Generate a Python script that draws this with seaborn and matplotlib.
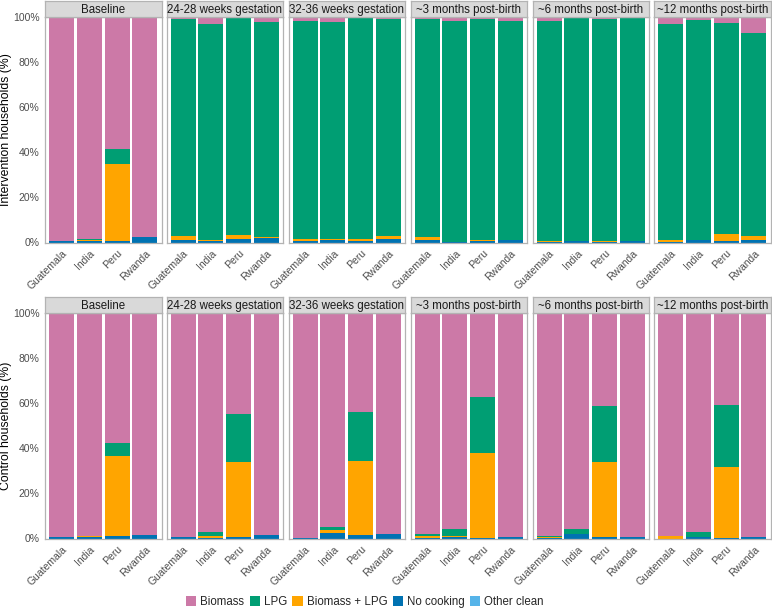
import numpy as np
import pandas as pd
import matplotlib
matplotlib.use("Agg")
import matplotlib.pyplot as plt
from matplotlib.patches import Patch
import seaborn as sns

countries = ["Guatemala", "India", "Peru", "Rwanda"]
stages = ["Baseline", "24-28 weeks gestation", "32-36 weeks gestation",
          "~3 months post-birth", "~6 months post-birth", "~12 months post-birth"]
fuels = ["Biomass", "LPG", "Biomass + LPG", "No cooking", "Other clean"]
colors = ["#CC79A7", "#009E73", "#FFA500", "#0072B2", "#56B4E9"]

# Intervention households (%), rows = stages, cols = countries
int_biomass = [[99.3, 98.5, 58.7, 97.5], [0.7, 3.2, 0.2, 2.4], [1.8, 2.0, 0.5, 0.7],
               [0.9, 1.6, 0.9, 1.6], [1.6, 0.3, 1.0, 0.6], [3.0, 1.2, 2.5, 7.0]]
int_lpg = [[0.0, 0.3, 6.3, 0.0], [96.6, 95.7, 96.4, 95.1], [96.7, 96.5, 97.9, 96.6],
           [96.6, 98.0, 97.9, 97.2], [97.7, 99.1, 98.3, 98.8], [96.0, 97.9, 93.9, 90.0]]
int_mixed = [[0.0, 0.5, 34.3, 0.0], [1.7, 0.4, 1.9, 0.3], [0.8, 0.2, 1.1, 1.0],
             [1.3, 0.0, 0.7, 0.0], [0.5, 0.0, 0.5, 0.0], [0.8, 0.0, 3.1, 1.8]]
int_nocook = [[0.7, 0.7, 0.7, 2.5], [1.0, 0.7, 1.5, 2.2], [0.7, 1.3, 0.5, 1.7],
              [1.2, 0.4, 0.5, 1.2], [0.2, 0.6, 0.2, 0.6], [0.2, 0.9, 0.5, 1.2]]
int_other = [[0.0, 0.0, 0.0, 0.0]] * 6

# Control households (%)
ctl_biomass = [[99.2, 98.9, 57.8, 98.5], [99.5, 97.2, 44.9, 98.6], [99.8, 95.1, 43.9, 98.0],
               [98.1, 95.6, 37.2, 99.4], [98.8, 95.7, 41.2, 99.5], [98.8, 97.2, 40.6, 99.4]]
ctl_lpg = [[0.0, 0.0, 5.5, 0.0], [0.0, 1.6, 21.0, 0.0], [0.0, 1.2, 21.7, 0.0],
           [0.7, 3.2, 24.9, 0.0], [0.7, 2.3, 25.0, 0.0], [0.0, 2.3, 27.8, 0.0]]
ctl_mixed = [[0.0, 0.3, 35.4, 0.0], [0.0, 0.8, 33.6, 0.0], [0.0, 1.3, 32.9, 0.0],
             [0.9, 0.7, 37.7, 0.0], [0.3, 0.2, 33.3, 0.0], [1.2, 0.0, 31.4, 0.0]]
ctl_nocook = [[0.8, 0.8, 1.3, 1.5], [0.5, 0.4, 0.5, 1.4], [0.2, 2.4, 1.5, 2.0],
              [0.3, 0.5, 0.2, 0.6], [0.2, 1.8, 0.5, 0.5], [0.0, 0.5, 0.2, 0.6]]
ctl_other = [[0.0, 0.0, 0.0, 0.0]] * 6

groups = {
    "Intervention households (%)": [int_biomass, int_lpg, int_mixed, int_nocook, int_other],
    "Control households (%)": [ctl_biomass, ctl_lpg, ctl_mixed, ctl_nocook, ctl_other],
}

rows = []
for g, arrs in groups.items():
    for fi, f in enumerate(fuels):
        for si, s in enumerate(stages):
            for ci, c in enumerate(countries):
                rows.append(dict(group=g, fuel=f, stage=s, country=c, pct=arrs[fi][si][ci]))
df = pd.DataFrame(rows)
df["country"] = pd.Categorical(df["country"], categories=countries)

sns.set_theme(style="white")
plt.rcParams["font.family"] = ["Liberation Sans", "DejaVu Sans"]

W, H = 772, 611
fig = plt.figure(figsize=(W / 100, H / 100), dpi=100)

lefts = [45, 166.5, 288.5, 410.5, 532.5, 654]
pw = 116.5
row_tops = [17, 313]
ph = 225.5
sh = 16.5
border = "#B3B3B3"
palette = dict(zip(fuels, colors))

for ri, (g, _) in enumerate(groups.items()):
    for si, s in enumerate(stages):
        x0 = lefts[si]
        y_top = row_tops[ri]
        ax = fig.add_axes([x0 / W, 1 - (y_top + ph) / H, pw / W, ph / H])
        sub = df[(df.group == g) & (df.stage == s)]
        # draw stacked bars by overlaying cumulative sums (top layer first)
        for k, f in enumerate(fuels):
            layer_fuels = fuels[k:]
            cum = (sub[sub.fuel.isin(layer_fuels)]
                   .groupby("country", observed=False)["pct"].sum().reset_index())
            sns.barplot(data=cum, x="country", y="pct", order=countries,
                        color=palette[f], width=0.9, saturation=1, ax=ax,
                        linewidth=0, errorbar=None)
        ax.set_xlim(-0.6, 3.6)
        ax.set_ylim(0, 100)
        ax.set_xlabel("")
        ax.set_ylabel("")
        for sp in ax.spines.values():
            sp.set_color(border)
            sp.set_linewidth(0.9)
        ax.set_yticks([0, 20, 40, 60, 80, 100])
        ax.tick_params(axis="both", which="both", length=2.5, width=0.6,
                       color="#333333", labelsize=7.5, labelcolor="#4D4D4D", pad=1.5)
        ax.set_xticks(range(4))
        ax.set_xticklabels(countries, rotation=45, ha="right", rotation_mode="anchor")
        if si == 0:
            ax.set_yticklabels([f"{v}%" for v in [0, 20, 40, 60, 80, 100]])
            ax.set_ylabel(g, fontsize=8.8, color="black")
            ax.yaxis.set_label_coords((12 - x0) / pw, 0.5)
        else:
            ax.set_yticklabels([])
            ax.tick_params(axis="y", length=0)
        # strip
        sax = fig.add_axes([x0 / W, 1 - y_top / H, pw / W, sh / H])
        sax.set_facecolor("#D9D9D9")
        sax.set_xticks([])
        sax.set_yticks([])
        for sp in sax.spines.values():
            sp.set_color(border)
            sp.set_linewidth(0.9)
        sax.text(0.5, 0.45, s, ha="center", va="center", fontsize=8.3,
                 color="#1A1A1A", transform=sax.transAxes)

handles = [Patch(facecolor=c, edgecolor="none", label=f) for f, c in zip(fuels, colors)]
fig.legend(handles=handles, loc="center", bbox_to_anchor=(365 / W, 1 - 602 / H),
           ncol=5, frameon=False, fontsize=8.3, handlelength=0.9, handleheight=0.9,
           handletextpad=0.35, columnspacing=0.45, borderaxespad=0)

fig.savefig("out.png", dpi=100)
